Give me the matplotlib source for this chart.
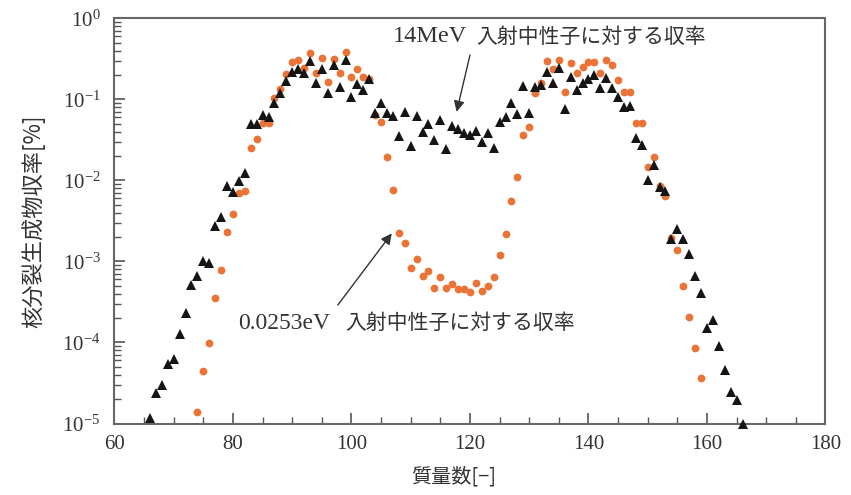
import matplotlib
matplotlib.use("Agg")
import matplotlib.pyplot as plt
from matplotlib.ticker import MultipleLocator, LogLocator, NullFormatter

plt.rcParams['font.family'] = ['Liberation Serif', 'Noto Sans CJK JP', 'DejaVu Sans']
plt.rcParams['mathtext.fontset'] = 'stix'

# ---- data ----
mass_thermal = list(range(74, 160))
yield_thermal = [
    1.39e-5, 4.46e-5, 9.72e-5, 3.49e-4, 7.9e-4, 2.32e-3, 3.8e-3, 7.03e-3, 7.44e-3,   # 74-82
    0.0248, 0.0324, 0.0514, 0.0505, 0.105, 0.133, 0.205, 0.291, 0.306, 0.241,       # 83-92
    0.376, 0.209, 0.321, 0.165, 0.312, 0.213, 0.380, 0.187, 0.237, 0.190,           # 93-102
    0.177, 0.064, 0.0529, 0.0192, 0.00759, 0.00225, 0.0017, 0.000834, 0.00107,      # 103-111
    0.000659, 0.00076, 0.000472, 0.000645, 0.000472, 0.000525, 0.000451, 0.000451,  # 112-119
    0.000421, 0.000535, 0.000434, 0.0005, 0.000634, 0.0012, 0.00215, 0.0056,        # 120-127
    0.0111, 0.0362, 0.0459, 0.121, 0.160, 0.300, 0.235, 0.306, 0.124, 0.283,        # 128-137
    0.213, 0.253, 0.286, 0.286, 0.209, 0.306, 0.265, 0.173, 0.122, 0.122,           # 138-147
    0.0505, 0.0505, 0.0145, 0.0196, 0.0085, 0.0064, 0.00192, 0.00137, 0.000495,     # 148-156
    0.000207, 8.67e-5, 3.6e-5,                                                      # 157-159
]

mass_fast = list(range(66, 167))
yield_fast = [
    1.17e-5, 2.41e-5, 2.97e-5, 5.4e-5, 6.34e-5, 1.26e-4, 2.28e-4, 5.1e-4, 6.64e-4,  # 66-74
    1.01e-3, 9.6e-4, 2.73e-3, 3.55e-3, 8.57e-3, 7.1e-3, 9.8e-3, 0.0122,             # 75-82
    0.049, 0.049, 0.064, 0.060, 0.0907, 0.121, 0.168, 0.219, 0.235, 0.209,          # 83-92
    0.300, 0.160, 0.235, 0.121, 0.265, 0.143, 0.306, 0.108, 0.153, 0.130,           # 93-102
    0.177, 0.0671, 0.0907, 0.0671, 0.0622, 0.0352, 0.0691, 0.0265, 0.0622,          # 103-111
    0.0398, 0.0491, 0.0315, 0.0555, 0.0243, 0.0472, 0.043, 0.0387, 0.0362,          # 112-120
    0.0406, 0.0294, 0.038, 0.0253, 0.0529, 0.060, 0.0893, 0.0653, 0.147,            # 121-129
    0.0684, 0.143, 0.150, 0.219, 0.160, 0.241, 0.0759, 0.190, 0.130, 0.158,         # 130-139
    0.177, 0.200, 0.139, 0.185, 0.139, 0.108, 0.0815, 0.0826, 0.0336, 0.0273,       # 140-149
    0.0101, 0.0155, 0.0082, 0.00738, 0.00187, 0.00248, 0.00187, 0.00123,            # 150-157
    6.64e-4, 4.03e-4, 1.53e-4, 1.88e-4, 9.0e-5, 4.55e-5, 2.45e-5, 1.94e-5, 1.0e-5,  # 158-166
]

energy_fast = "14MeV"
energy_thermal = "0.0253eV"
label_jp = "入射中性子に対する収率"
xlabel = "質量数[−]"
ylabel = "核分裂生成物収率[%]"

# ---- figure ----
fig = plt.figure(figsize=(8.51, 4.95), dpi=100)
ax = fig.add_axes([0.1345, 0.1444, 0.8355, 0.8186])

ax.plot(mass_thermal, yield_thermal, linestyle='none', marker='o', markersize=5.6,
        color='#ea7335', markeredgewidth=0, zorder=3)
ax.plot(mass_fast, yield_fast, linestyle='none', marker='^', markersize=7,
        color='#151515', markeredgewidth=0, zorder=4, clip_on=False)

ax.set_yscale('log')
ax.set_xlim(60, 180)
ax.set_ylim(1e-5, 1)

ax.xaxis.set_major_locator(MultipleLocator(20))
ax.xaxis.set_minor_locator(MultipleLocator(5))
ax.yaxis.set_major_locator(LogLocator(base=10, numticks=10))
ax.yaxis.set_minor_locator(LogLocator(base=10, subs=range(2, 10), numticks=100))
ax.yaxis.set_minor_formatter(NullFormatter())

ax.tick_params(which='both', direction='in', top=False, right=False, color='#555555',
               labelcolor='#333333', labelsize=15)
ax.tick_params(which='major', length=8, width=1.2)
ax.tick_params(which='minor', length=5, width=1.0)
ax.tick_params(axis='x', pad=8)
ax.tick_params(axis='y', pad=10)

for sp in ax.spines.values():
    sp.set_color('#666666')
    sp.set_linewidth(1.5)

ax.set_xlabel(xlabel, fontsize=14.5, color='#333333', family=['Noto Sans CJK JP'])
ax.xaxis.set_label_coords(0.4775, -0.105)
ax.set_ylabel(ylabel, fontsize=16, color='#333333', labelpad=12,
              family=['Noto Sans CJK JP'])

arrow_kw = dict(arrowstyle='-|>', color='#333333', lw=1.0, mutation_scale=16,
                shrinkA=0, shrinkB=0)
ax.text(107.0, 0.59, energy_fast, fontsize=17.5, color='#333333', ha='left', va='center')
ax.text(121.0, 0.59, label_jp, fontsize=15, color='#333333', ha='left', va='center',
        family=['Noto Sans CJK JP'])
ax.annotate('', xy=(117.75, 0.0703), xytext=(120.0, 0.352), arrowprops=arrow_kw)

ax.text(80.8, 1.73e-4, energy_thermal, fontsize=17, color='#333333', ha='left', va='center')
ax.text(98.9, 1.73e-4, label_jp, fontsize=15, color='#333333', ha='left', va='center',
        family=['Noto Sans CJK JP'])
ax.annotate('', xy=(106.8, 0.00222), xytext=(97.7, 2.9e-4), arrowprops=arrow_kw)

fig.savefig('out.png', dpi=100)
